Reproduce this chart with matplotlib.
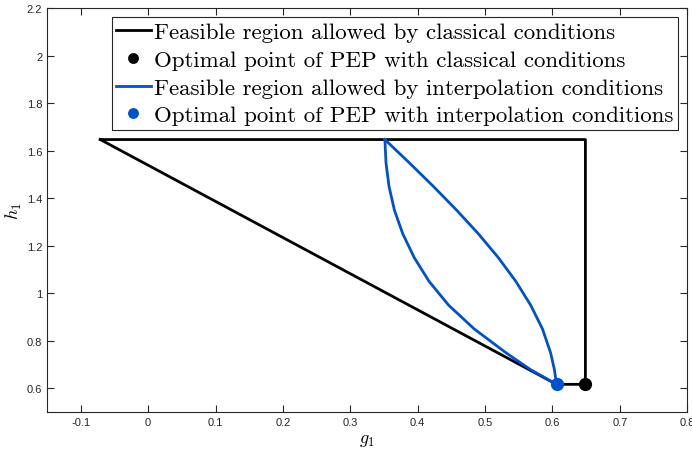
import matplotlib
matplotlib.use("Agg")

import numpy as np
import matplotlib.pyplot as plt

plt.rcParams["mathtext.fontset"] = "cm"
plt.rcParams["axes.unicode_minus"] = False

# feasible region from classical conditions (closed polygon)
classic_g = [-0.071, 0.649, 0.649, 0.606, -0.071]
classic_h = [1.647, 1.647, 0.617, 0.617, 1.647]
classic_opt = (0.649, 0.617)

# feasible region from interpolation conditions (two boundary arcs, top -> bottom)
left_g = [0.3514, 0.3530, 0.3575, 0.3655, 0.3780, 0.3950, 0.4170, 0.4460,
          0.4840, 0.5310, 0.5670, 0.6061]
left_h = [1.647, 1.55, 1.45, 1.35, 1.25, 1.15, 1.05, 0.95, 0.85, 0.75, 0.68, 0.617]
right_g = [0.3514, 0.3873, 0.4233, 0.4578, 0.4903, 0.5198, 0.5458, 0.5678,
           0.5853, 0.5973, 0.6029, 0.6061]
right_h = [1.647, 1.55, 1.45, 1.35, 1.25, 1.15, 1.05, 0.95, 0.85, 0.75, 0.68, 0.617]
interp_opt = (0.6061, 0.617)

blue = "#0052CC"
gray = "#262626"

fig = plt.figure(figsize=(6.92, 4.56), dpi=100)
ax = fig.add_axes([0.068, 0.094, 0.925, 0.886])

ax.plot(classic_g, classic_h, color="black", lw=2,
        label="Feasible region allowed by classical conditions")
ax.plot(*classic_opt, "o", color="black", ms=8.5,
        label="Optimal point of PEP with classical conditions")
ax.plot(left_g + right_g[::-1], left_h + right_h[::-1], color=blue, lw=2,
        solid_joinstyle="round",
        label="Feasible region allowed by interpolation conditions")
ax.plot(*interp_opt, "o", color=blue, ms=8.5,
        label="Optimal point of PEP with interpolation conditions")

ax.set_xlim(-0.15, 0.8)
ax.set_ylim(0.5, 2.2)
ax.set_xticks(np.arange(-0.1, 0.81, 0.1))
ax.set_yticks(np.arange(0.6, 2.21, 0.2))
ax.set_xticklabels(["-0.1", "0", "0.1", "0.2", "0.3", "0.4", "0.5", "0.6", "0.7", "0.8"])
ax.set_yticklabels(["0.6", "0.8", "1", "1.2", "1.4", "1.6", "1.8", "2", "2.2"])
ax.tick_params(direction="in", length=5, width=0.8, top=True, right=True,
               labelsize=8, colors=gray, labelcolor=gray)
for lbl in ax.get_xticklabels() + ax.get_yticklabels():
    lbl.set_family("Liberation Sans")
for sp in ax.spines.values():
    sp.set_color(gray)
    sp.set_linewidth(0.8)

ax.set_xlabel("$g_1$", fontsize=13, labelpad=2)
ax.set_ylabel("$h_1$", fontsize=13, labelpad=2)

leg = ax.legend(loc="upper right", prop={"family": "cmr10", "size": 16.5},
                fancybox=False, edgecolor=gray, framealpha=1,
                borderaxespad=0.4, labelspacing=0.34, handlelength=1.5,
                handletextpad=0.15, borderpad=0.2, markerscale=0.8)
leg.get_frame().set_linewidth(0.8)

fig.savefig("out.png", dpi=100)
